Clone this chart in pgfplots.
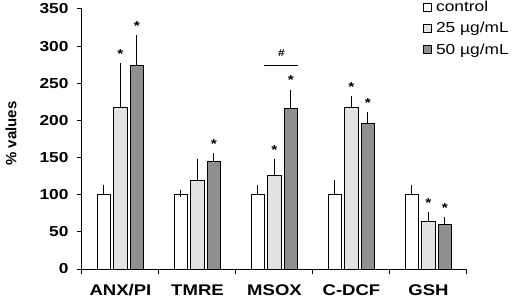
\documentclass[border=0pt]{standalone}
\usepackage{pgfplots}
\pgfplotsset{compat=1.18}
\usepackage{pgfplotstable}
\usepackage{fontspec}
\setmainfont[FakeStretch=1.2]{Liberation Sans}
\newfontfamily\plainsans{Liberation Sans}
\definecolor{lightbar}{HTML}{E2E2E2}
\definecolor{darkbar}{HTML}{8F8F8F}
\pgfplotstableread{
cat ctrl ctrlE m25 m25E m50 m50E
0 100 9 217 55 274.5 35.5
1 100 1.5 119.5 24.5 144.7 6.3
2 100 9 125.3 18 215.6 21.2
3 100 15 217.5 10.3 196.4 9.6
4 100 8.8 64.3 7.7 59.8 5.4
}\data
\begin{document}
\begin{tikzpicture}[star/.style={font=\bfseries\fontsize{13}{13}\selectfont, anchor=north, inner sep=0pt, yshift=17.5bp}]
\begin{axis}[
  at={(0,0)}, anchor=south west,
  scale only axis, width=385bp, height=260bp,
  xmin=-0.5, xmax=4.5, ymin=0, ymax=350,
  ybar=3bp, bar width=13.5bp,
  axis x line=bottom, axis y line=left,
  axis line style={-, line width=1bp, black},
  tick align=outside, major tick length=5bp,
  tick style={line width=1bp, black},
  xtick={0,...,4}, xticklabels={ANX/PI,TMRE,MSOX,C-DCF,GSH},
  major x tick style={draw=none},
  extra x ticks={-0.5,0.5,1.5,2.5,3.5,4.5}, extra x tick labels={},
  extra x tick style={major x tick style={draw=black, line width=1bp}},
  ytick={0,50,...,350},
  /pgf/number format/assume math mode=true,
  yticklabel style={font=\bfseries\fontsize{14.5}{16}\selectfont, xshift=-5bp},
  xticklabel style={font=\bfseries\fontsize{15.5}{17}\selectfont, anchor=base, yshift=-21bp},
  ylabel={\% values},
  every axis y label/.style={at={(axis description cs:-0.1844,0.521)}, rotate=90, anchor=center, font=\plainsans\bfseries\fontsize{15}{15}\selectfont},
  legend style={at={(axis description cs:0.886,1.035)}, anchor=north west, draw=none, fill=none, inner sep=0pt, row sep=7.3bp, font=\fontsize{14.5}{14.5}\selectfont, nodes={inner sep=1bp}},
  legend cell align=left,
  legend image code/.code={\draw[#1, line width=0.6bp] (0bp,-4bp) rectangle (8bp,4bp); \path (11bp,0bp);},
  error bars/y dir=plus, error bars/y explicit,
  error bars/error mark=-,
  error bars/error mark options={line width=1bp, mark size=3.5bp, black},
  error bars/error bar style={line width=1bp, black},
]
\addplot[draw=black, line width=1bp, fill=white] table[x=cat, y=ctrl, y error=ctrlE] {\data};
\addplot[draw=black, line width=1bp, fill=lightbar] table[x=cat, y=m25, y error=m25E] {\data};
\addplot[draw=black, line width=1bp, fill=darkbar] table[x=cat, y=m50, y error=m50E] {\data};
\legend{control, 25 µg/mL, 50 µg/mL}
% significance marks
\node[star] at (axis cs:0,272) {*};
\node[star, xshift=16.5bp] at (axis cs:0,310) {*};
\node[star, xshift=16.5bp] at (axis cs:1,151) {*};
\node[star] at (axis cs:2,143.3) {*};
\node[star, xshift=16.5bp] at (axis cs:2,236.8) {*};
\node[star] at (axis cs:3,227.8) {*};
\node[star, xshift=16.5bp] at (axis cs:3,206) {*};
\node[star] at (axis cs:4,72) {*};
\node[star, xshift=16.5bp] at (axis cs:4,65.2) {*};
\draw[line width=1bp] ([xshift=-10.5bp]axis cs:2,273.6) -- ([xshift=23.5bp]axis cs:2,273.6);
\node[anchor=south, inner sep=0pt, font=\bfseries\fontsize{10}{10}\selectfont] at ([xshift=7bp, yshift=8.7bp]axis cs:2,273.6) {\#};
\end{axis}
\pgfresetboundingbox
\path[use as bounding box] (-82bp,-29bp) rectangle (430bp,269bp);
\end{tikzpicture}
\end{document}
